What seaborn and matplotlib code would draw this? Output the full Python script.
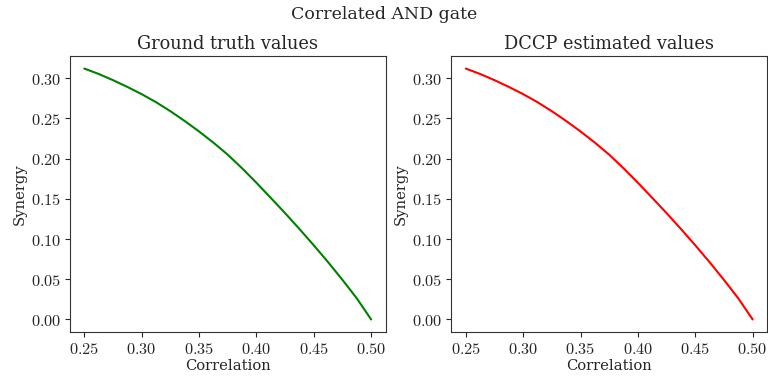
import matplotlib
matplotlib.use("Agg")
import matplotlib.pyplot as plt
import seaborn as sns
import pandas as pd

# Correlation values and synergy for the correlated AND gate
correlation = [0.25, 0.2625, 0.275, 0.2875, 0.30, 0.3125, 0.325, 0.3375, 0.35, 0.3625,
               0.375, 0.3875, 0.40, 0.4125, 0.425, 0.4375, 0.45, 0.4625, 0.475, 0.4875, 0.50]
synergy_true = [0.312, 0.3053, 0.2976, 0.2892, 0.2802, 0.2702, 0.2590, 0.2468, 0.2338, 0.2199,
                0.2049, 0.1880, 0.1700, 0.1512, 0.1322, 0.1125, 0.0922, 0.0712, 0.0492, 0.0262, 0.0]
synergy_dccp = [0.312, 0.3053, 0.2976, 0.2892, 0.2802, 0.2702, 0.2590, 0.2468, 0.2338, 0.2199,
                0.2049, 0.1880, 0.1700, 0.1512, 0.1322, 0.1125, 0.0922, 0.0712, 0.0492, 0.0262, 0.0]

yticks = [0.00, 0.05, 0.10, 0.15, 0.20, 0.25, 0.30]
xticks = [0.25, 0.30, 0.35, 0.40, 0.45, 0.50]

sns.set_style("ticks")
plt.rcParams["font.family"] = ["DejaVu Serif"]
plt.rcParams["mathtext.fontset"] = "cm"

df_true = pd.DataFrame({"Correlation": correlation, "Synergy": synergy_true})
df_dccp = pd.DataFrame({"Correlation": correlation, "Synergy": synergy_dccp})

fig, axes = plt.subplots(1, 2, figsize=(7.68, 3.76), dpi=100)
fig.subplots_adjust(left=0.0911, right=0.9987, bottom=0.117, top=0.851, wspace=0.209)

panels = [
    (axes[0], df_true, "green", "Ground truth values"),
    (axes[1], df_dccp, "red", "DCCP estimated values"),
]
for ax, df, color, title in panels:
    sns.lineplot(data=df, x="Correlation", y="Synergy", color=color, linewidth=1.5, ax=ax)
    ax.set_title(title, fontsize=12.8, pad=5)
    ax.set_xlabel("Correlation", fontsize=10.6, labelpad=1)
    ax.set_ylabel("Synergy", fontsize=10.6, labelpad=3)
    ax.set_xticks(xticks)
    ax.set_yticks(yticks)
    ax.set_xticklabels([f"${v:.2f}$" for v in xticks], fontsize=11.8)
    ax.set_yticklabels([f"${v:.2f}$" for v in yticks], fontsize=11.8)
    ax.tick_params(length=3.5, width=0.8, pad=3)
    for spine in ax.spines.values():
        spine.set_color("#333333")

fig.suptitle("Correlated AND gate", fontsize=12.5, y=0.985)
fig.savefig("out.png", dpi=100)
